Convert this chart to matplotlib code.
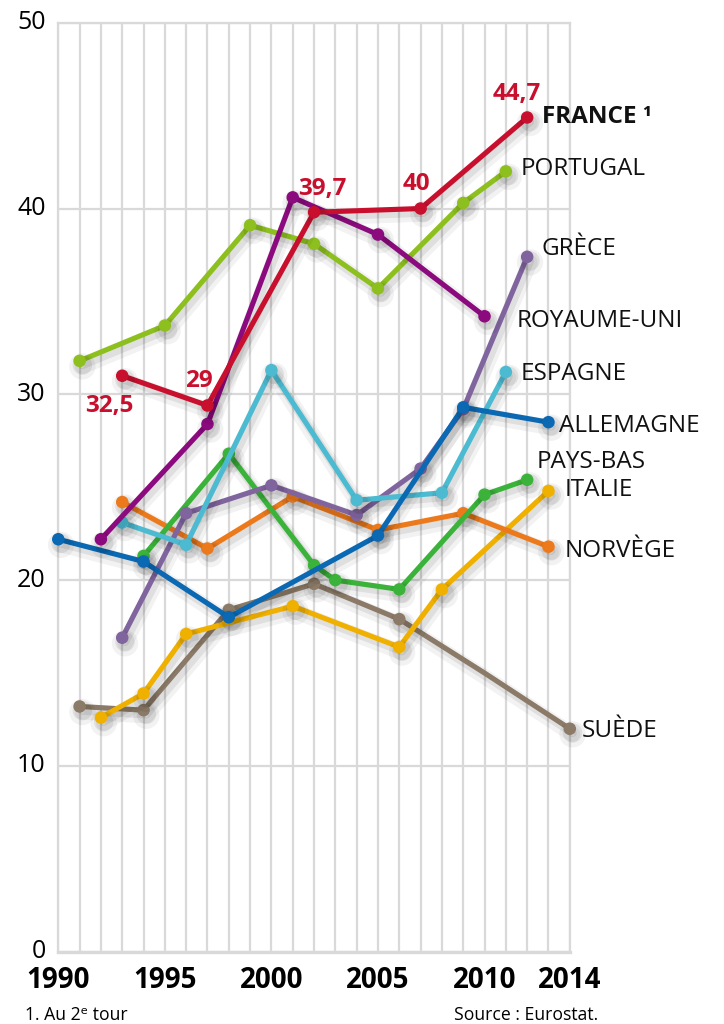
import matplotlib.pyplot as plt
import matplotlib.patheffects as pe
import matplotlib.transforms as mtransforms

plt.rcParams['font.family'] = ['Open Sans', 'DejaVu Sans']

# share of women in national parliaments (%)
france_years = [1993, 1997, 2002, 2007, 2012]
france_vals = [31.0, 29.4, 39.8, 40.0, 44.9]
france_labels = ['32,5', '29', '39,7', '40', '44,7']

portugal_years = [1991, 1995, 1999, 2002, 2005, 2009, 2011]
portugal_vals = [31.8, 33.7, 39.1, 38.1, 35.7, 40.3, 42.0]

ru_years = [1992, 1997, 2001, 2005, 2010]
ru_vals = [22.2, 28.4, 40.6, 38.6, 34.2]

grece_years = [1993, 1996, 2000, 2004, 2007, 2009, 2012]
grece_vals = [16.9, 23.6, 25.1, 23.5, 26.0, 29.2, 37.4]

espagne_years = [1993, 1996, 2000, 2004, 2008, 2011]
espagne_vals = [23.1, 21.9, 31.3, 24.3, 24.7, 31.2]

allemagne_years = [1990, 1994, 1998, 2005, 2009, 2013]
allemagne_vals = [22.2, 21.0, 18.0, 22.4, 29.3, 28.5]

paysbas_years = [1994, 1998, 2002, 2003, 2006, 2010, 2012]
paysbas_vals = [21.3, 26.8, 20.8, 20.0, 19.5, 24.6, 25.4]

italie_years = [1992, 1994, 1996, 2001, 2006, 2008, 2013]
italie_vals = [12.6, 13.9, 17.1, 18.6, 16.4, 19.5, 24.8]

norvege_years = [1993, 1997, 2001, 2005, 2009, 2013]
norvege_vals = [24.2, 21.7, 24.5, 22.7, 23.6, 21.8]

suede_years = [1991, 1994, 1998, 2002, 2006, 2010, 2014]
suede_vals = [13.2, 13.0, 18.4, 19.8, 17.9, 15.0, 12.0]

series = [
    ('SUÈDE', suede_years, suede_vals, '#8b7a67', [0, 1, 2, 3, 4, 6]),
    ('ITALIE', italie_years, italie_vals, '#f0b000', None),
    ('NORVÈGE', norvege_years, norvege_vals, '#ec7a1c', None),
    ('PAYS-BAS', paysbas_years, paysbas_vals, '#3bb33a', None),
    ('GRÈCE', grece_years, grece_vals, '#80649e', None),
    ('ESPAGNE', espagne_years, espagne_vals, '#4cbad0', None),
    ('ALLEMAGNE', allemagne_years, allemagne_vals, '#0b68b3', None),
    ('PORTUGAL', portugal_years, portugal_vals, '#8dbf1e', None),
    ('ROYAUME-UNI', ru_years, ru_vals, '#8b0a7e', None),
    ('FRANCE ¹', france_years, france_vals, '#c8102e', None),
]

# where the country names sit (year, baseline value)
name_pos = {
    'FRANCE ¹': (2012.69, 44.59),
    'PORTUGAL': (2011.68, 41.80),
    'GRÈCE': (2012.69, 37.50),
    'ROYAUME-UNI': (2011.49, 33.64),
    'ESPAGNE': (2011.68, 30.77),
    'ALLEMAGNE': (2013.5, 27.99),
    'PAYS-BAS': (2012.43, 26.02),
    'ITALIE': (2013.74, 24.53),
    'NORVÈGE': (2013.74, 21.26),
    'SUÈDE': (2014.57, 11.57),
}
# red value labels for France (year, baseline value)
france_label_pos = [(1992.38, 29.06), (1996.6, 30.38), (2002.4, 40.73),
                    (2006.79, 41.0), (2011.49, 45.84)]

fig = plt.figure(figsize=(7.24, 10.24), dpi=100)
ax = fig.add_axes([0.0805, 0.0706, 0.7065, 0.9072])

shadow = [pe.SimpleLineShadow(offset=(2, -4), shadow_color='black', alpha=0.05, linewidth=11),
          pe.SimpleLineShadow(offset=(2, -3), shadow_color='black', alpha=0.08, linewidth=6),
          pe.Normal()]

for name, xs, ys, col, mk in series:
    ax.plot(xs, ys, color=col, lw=3.7, marker='o', ms=8, markevery=mk,
            solid_joinstyle='round', solid_capstyle='round',
            path_effects=shadow, zorder=3, clip_on=False)
    nx, ny = name_pos[name]
    weight = 'bold' if name.startswith('FRANCE') else 'normal'
    ax.text(nx, ny, name, fontsize=17.5, fontweight=weight, color='#111111',
            ha='left', va='baseline', zorder=5)

for (lx, ly), txt in zip(france_label_pos, france_labels):
    ax.text(lx, ly, txt, fontsize=17.5, fontweight='bold', color='#c8102e',
            ha='center', va='baseline', zorder=5)

ax.set_xlim(1990, 2014)
ax.set_ylim(0, 50)
ax.set_xticks(range(1990, 2015), minor=True)
ax.set_xticks([1990, 1995, 2000, 2005, 2010, 2014])
ax.set_xticklabels(['1990', '1995', '2000', '2005', '2010', '2014'],
                   fontsize=20, fontweight='bold')
ax.set_yticks([0, 10, 20, 30, 40, 50])
ax.set_yticklabels(['0', '10', '20', '30', '40', '50'], fontsize=18)
ax.tick_params(axis='both', which='both', length=0)
ax.tick_params(axis='x', pad=10)
ax.tick_params(axis='y', pad=9)
# nudge the y labels a few pixels up, as in the original
up = mtransforms.ScaledTranslation(0, 3 / 100, fig.dpi_scale_trans)
for lab in ax.get_yticklabels():
    lab.set_transform(lab.get_transform() + up)

ax.grid(True, which='both', axis='x', color='#d9d9d9', lw=1.6)
ax.grid(True, which='major', axis='y', color='#d9d9d9', lw=1.6)
ax.set_axisbelow(True)
for s in ax.spines.values():
    s.set_color('#d9d9d9')
    s.set_linewidth(1.6)
ax.spines['bottom'].set_linewidth(2.4)

fig.text(0.035, 0.004, '1. Au 2ᵉ tour', fontsize=12.7, ha='left', va='baseline')
fig.text(0.826, 0.004, 'Source : Eurostat.', fontsize=12.7, ha='right', va='baseline')

fig.savefig('out.png', dpi=100)
